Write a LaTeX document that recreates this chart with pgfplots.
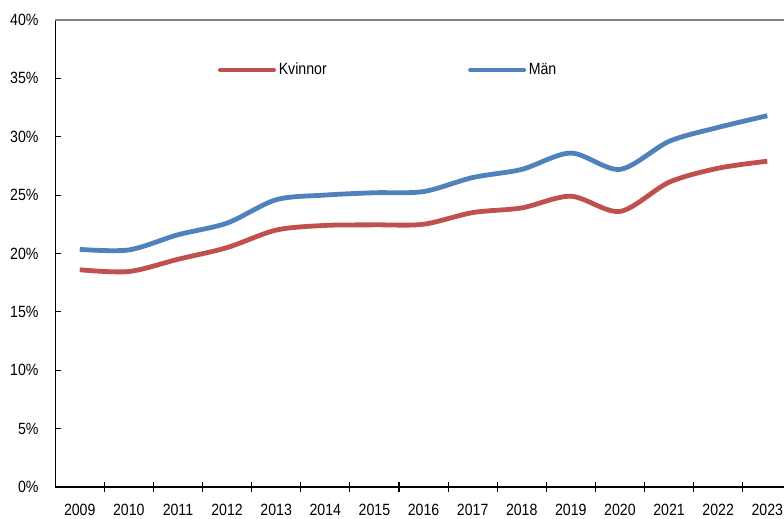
\documentclass[border=0pt]{standalone}
\usepackage{fontspec}
\setmainfont{Liberation Sans}[FakeStretch=0.87]
\usepackage{pgfplots}
\pgfplotsset{compat=1.18}
\definecolor{kvred}{RGB}{192,80,77}
\definecolor{manblue}{RGB}{79,129,189}
\definecolor{topgray}{RGB}{128,128,128}

\begin{document}
\begin{tikzpicture}
\begin{axis}[
    width=546.75pt, height=350.25pt, scale only axis,
    xmin=-0.5, xmax=14.34, ymin=0, ymax=40,
    axis x line*=bottom, axis y line*=left,
    axis line style={-, black, line width=1pt},
    xtick={0,...,14},
    xticklabels={2009,2010,2011,2012,2013,2014,2015,2016,2017,2018,2019,2020,2021,2022,2023},
    major x tick style={draw=none},
    minor xtick={0.5,1.5,2.5,3.5,4.5,5.5,6.5,7.5,8.5,9.5,10.5,11.5,12.5,13.5},
    minor tick length=7.5pt,
    xtick align=center,
    x tick label style={yshift=-7pt},
    ytick={0,5,...,40},
    yticklabel={\pgfmathprintnumber{\tick}\%},
    ytick align=inside,
    major tick length=4.5pt,
    tick style={black, line width=0.8pt},
    /pgf/number format/assume math mode=true,
    tick label style={font=\fontsize{12.2}{14}\selectfont},
    y tick label style={xshift=-9pt},
    clip=false,
    legend columns=2,
    legend style={draw=none, fill=none, inner sep=0pt,
        at={(rel axis cs:0.223,0.893)}, anchor=west,
        font=\fontsize{12.2}{14}\selectfont,
        nodes={inner sep=2pt},
        /tikz/column 2/.style={column sep=104pt}},
    legend image code/.code={\draw[#1, line cap=round] (0pt,0pt) -- (40pt,0pt);},
]
\draw[topgray, line width=1.5pt] (rel axis cs:0,1) -- (rel axis cs:1,1);

\addplot[kvred, line width=3.6pt, smooth, tension=0.5] coordinates {
    (0,18.6) (1,18.45) (2,19.5) (3,20.5) (4,22.0) (5,22.4) (6,22.45)
    (7,22.5) (8,23.5) (9,23.9) (10,24.9) (11,23.6) (12,26.1) (13,27.3) (14,27.9)
};
\addlegendentry{Kvinnor}

\addplot[manblue, line width=3.6pt, smooth, tension=0.5] coordinates {
    (0,20.35) (1,20.3) (2,21.6) (3,22.6) (4,24.6) (5,25.0) (6,25.2)
    (7,25.3) (8,26.5) (9,27.2) (10,28.6) (11,27.2) (12,29.6) (13,30.8) (14,31.8)
};
\addlegendentry{Män}
\end{axis}
\pgfresetboundingbox
\path (current axis.south west) ++(-41.4pt,-24pt) coordinate (bbA);
\path (current axis.north east) ++(0pt,15pt) coordinate (bbB);
\useasboundingbox (bbA) rectangle (bbB);
\end{tikzpicture}
\end{document}
